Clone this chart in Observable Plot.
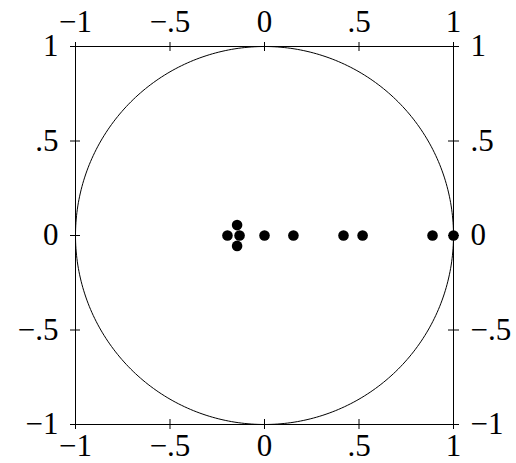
<!DOCTYPE html>
<html><head><meta charset="utf-8">
<script src="https://cdn.jsdelivr.net/npm/d3@7"></script>
<script src="https://cdn.jsdelivr.net/npm/@observablehq/plot@0.6"></script>
<style>
body{margin:0;background:#fff;}
svg{display:block;}
</style>
</head><body><div id="chart"></div>
<script>
// eigenvalue points (real, imaginary)
const re = [-0.196, -0.145, -0.145, -0.132, 0, 0.153, 0.418, 0.519, 0.889, 1.0];
const im = [0, 0.055, -0.055, 0, 0, 0, 0, 0, 0, 0];
const tickValues = [-1, -0.5, 0, 0.5, 1];
const tickLabels = ["\u22121", "\u2212.5", "0", ".5", "1"];

const points = re.map((x, i) => ({x, y: im[i]}));
const fmt = d => tickLabels[tickValues.indexOf(d)];
const circle = d3.range(0, 361).map(a => ({x: Math.cos(a * Math.PI / 180), y: Math.sin(a * Math.PI / 180)}));

const W = 516, H = 463, mL = 75, mR = 63, mT = 46, mB = 39;
const inner = W - mL - mR;
const font = "'Liberation Serif', 'Times New Roman', serif";
const fs = 31;

const chart = Plot.plot({
  width: W, height: H,
  marginLeft: mL, marginRight: mR, marginTop: mT, marginBottom: mB,
  style: {fontFamily: font, fontSize: fs + "px", color: "#000", background: "#fff"},
  x: {domain: [-1, 1], label: null},
  y: {domain: [-1, 1], label: null},
  marks: [
    Plot.line(circle, {x: "x", y: "y", stroke: "#000", strokeWidth: 1}),
    Plot.frame({stroke: "#000", strokeWidth: 1}),
    Plot.axisX(tickValues, {anchor: "bottom", label: null, tickSize: 5, tickPadding: 4, tickFormat: fmt, fontSize: fs, fontFamily: font}),
    Plot.axisX(tickValues, {anchor: "top", label: null, tickSize: 5, tickPadding: 10, tickFormat: fmt, fontSize: fs, fontFamily: font}),
    Plot.axisY(tickValues, {anchor: "left", label: null, tickSize: 5, tickPadding: 12, tickFormat: fmt, fontSize: fs, fontFamily: font}),
    Plot.axisY(tickValues, {anchor: "right", label: null, tickSize: 5, tickPadding: 12, tickFormat: fmt, fontSize: fs, fontFamily: font}),
    Plot.tickX(tickValues, {x: d => d, insetTop: inner - 5, stroke: "#000"}),
    Plot.tickX(tickValues, {x: d => d, insetBottom: inner - 5, stroke: "#000"}),
    Plot.tickY(tickValues, {y: d => d, insetRight: inner - 5, stroke: "#000"}),
    Plot.tickY(tickValues, {y: d => d, insetLeft: inner - 5, stroke: "#000"}),
    Plot.dot(points, {x: "x", y: "y", r: 5.3, fill: "#000", stroke: "none"})
  ]
});
document.getElementById("chart").appendChild(chart);
</script>
</body></html>
